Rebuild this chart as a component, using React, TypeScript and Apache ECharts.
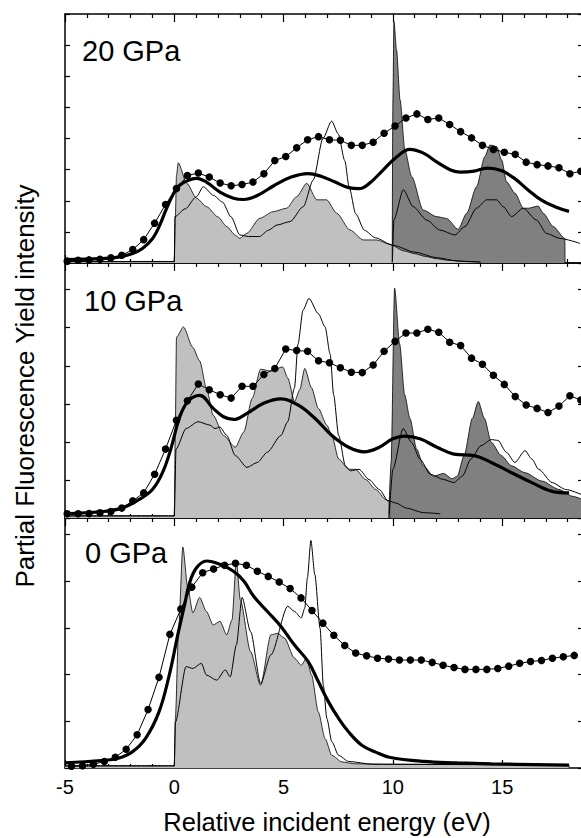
import React, { useEffect, useRef } from "react";
import * as echarts from "echarts";

const FONT = "'Liberation Sans', Arial, Helvetica, sans-serif";

const xTickLabels = ["-5", "0", "5", "10", "15"];
const panelLabels = ["20 GPa", "10 GPa", "0 GPa"];
const xTitle = "Relative incident energy (eV)";
const yTitle = "Partial Fluorescence Yield intensity";

// ---------- Panel 1 : 20 GPa ----------
const p1Dots = [
  [-4.9, 0.06], [-4.4, 0.09], [-3.9, 0.1], [-3.4, 0.12], [-2.9, 0.17], [-2.4, 0.25], [-1.9, 0.43],
  [-1.4, 0.75], [-0.9, 1.28], [-0.4, 1.88], [0.1, 2.39], [0.6, 2.81], [1.1, 2.89], [1.6, 2.76],
  [2.1, 2.57], [2.6, 2.48], [3.1, 2.52], [3.6, 2.6], [4.1, 2.87], [4.6, 3.29], [5.1, 3.42],
  [5.6, 3.7], [6.1, 3.96], [6.6, 4.06], [7.1, 3.96], [7.6, 3.94], [8.1, 3.78], [8.6, 3.78],
  [9.1, 3.88], [9.6, 4.17], [10.1, 4.4], [10.6, 4.66], [11.1, 4.79], [11.6, 4.61], [12.1, 4.66],
  [12.6, 4.45], [13.1, 4.22], [13.6, 4.02], [14.1, 3.78], [14.6, 3.65], [15.1, 3.56], [15.6, 3.49],
  [16.1, 3.24], [16.6, 3.16], [17.1, 3.12], [17.6, 3.06], [18.1, 2.87], [18.6, 2.95],
];
const p1Thick = [
  [-5, 0.11], [-3.33, 0.14], [-2.56, 0.19], [-1.94, 0.3], [-1.47, 0.46], [-1.0, 0.78], [-0.7, 1.16],
  [-0.39, 1.69], [-0.08, 2.17], [0.23, 2.49], [0.62, 2.65], [1.01, 2.72], [1.47, 2.6], [2.09, 2.28],
  [2.71, 2.08], [3.18, 2.04], [3.8, 2.17], [4.57, 2.49], [5.35, 2.76], [6.12, 2.87], [6.74, 2.78],
  [7.36, 2.6], [7.98, 2.42], [8.45, 2.39], [8.91, 2.55], [9.53, 2.97], [10.16, 3.4], [10.78, 3.65],
  [11.4, 3.53], [12.02, 3.24], [12.64, 2.99], [13.1, 2.92], [13.72, 2.95], [14.34, 3.05],
  [14.96, 2.97], [15.58, 2.71], [16.2, 2.34], [16.82, 2.01], [17.44, 1.8], [18.06, 1.66],
];
const p1Light = [
  [-5, 0.04], [0, 0.04], [0.05, 1.5], [0.1, 2.8], [0.18, 3.22], [0.57, 2.56], [1.02, 2.08],
  [1.48, 1.81], [2.0, 1.48], [2.4, 1.17], [2.8, 0.89], [3.0, 0.79], [3.31, 0.95], [3.92, 1.44],
  [4.53, 1.65], [5.14, 1.76], [5.6, 2.13], [6.06, 2.56], [6.52, 2.03], [6.97, 2.03], [7.43, 1.6],
  [8.04, 1.06], [8.65, 0.74], [9.26, 0.74], [9.87, 0.6], [10.5, 0.39], [11.0, 0.3], [11.5, 0.21],
  [12.0, 0.14], [12.5, 0.09], [13.5, 0.04], [14.0, 0.03], [14.01, 0],
];
const p1Dark = [
  [9.97, 0], [10.0, 5.0], [10.05, 7.76], [10.17, 6.85], [10.33, 5.24], [10.55, 3.63], [10.86, 2.78],
  [11.39, 1.7], [12.0, 1.49], [12.46, 1.43], [12.99, 1.08], [13.38, 1.6], [13.83, 2.45], [14.21, 3.42],
  [14.44, 3.79], [14.75, 3.74], [14.98, 3.31], [15.2, 2.61], [15.59, 2.24], [15.97, 1.76], [16.2, 1.76],
  [16.65, 1.83], [16.88, 1.6], [17.34, 1.17], [17.87, 0.79], [17.88, 0],
];
const p1ThinA = [
  [-5, 0.05], [0, 0.05], [0.03, 1.49], [0.5, 1.74], [1.0, 2.12], [1.33, 2.45], [1.8, 2.17],
  [2.2, 1.96], [2.6, 1.48], [3.0, 0.9], [3.4, 0.85], [3.9, 0.85], [4.3, 1.05], [4.7, 1.22],
  [5.3, 1.33], [5.9, 1.81], [6.36, 2.67], [6.8, 4.0], [7.2, 4.56], [7.5, 4.15], [7.8, 3.29],
  [8.0, 2.44], [8.3, 1.58], [8.7, 1.05], [9.2, 0.81], [10, 0.57], [11, 0.35], [12, 0.17],
  [13, 0.06], [14, 0.03],
];
const p1ThinB = [
  [9.98, 0.05], [10.05, 1.4], [10.48, 2.35], [10.93, 1.81], [11.55, 1.38], [12.15, 1.06], [12.84, 0.9],
  [13.3, 1.17], [13.83, 1.76], [14.29, 2.03], [14.75, 2.03], [15.05, 1.81], [15.43, 1.49],
  [15.97, 1.76], [16.57, 1.38], [17.03, 0.95], [17.64, 0.79], [18.56, 0.63],
];

// ---------- Panel 2 : 10 GPa ----------
const p2Dots = [
  [-4.9, 0.11], [-4.4, 0.11], [-3.9, 0.12], [-3.4, 0.14], [-2.9, 0.17], [-2.4, 0.26], [-1.9, 0.45],
  [-1.4, 0.66], [-0.9, 1.15], [-0.4, 1.81], [0.1, 2.57], [0.6, 3.08], [1.1, 3.52], [1.6, 3.37],
  [2.1, 3.24], [2.6, 3.15], [3.1, 3.46], [3.6, 3.46], [4.1, 3.77], [4.6, 3.93], [5.1, 4.44],
  [5.6, 4.4], [6.1, 4.38], [6.6, 4.13], [7.1, 4.08], [7.6, 3.95], [8.1, 3.83], [8.6, 3.82],
  [9.1, 4.02], [9.6, 4.38], [10.1, 4.64], [10.6, 4.86], [11.1, 4.86], [11.6, 4.96], [12.1, 4.88],
  [12.6, 4.62], [13.1, 4.53], [13.6, 4.2], [14.1, 4.04], [14.6, 3.75], [15.1, 3.51], [15.6, 3.19],
  [16.1, 2.97], [16.6, 2.88], [17.1, 2.77], [17.6, 2.94], [18.1, 3.21], [18.6, 3.1],
];
const p2Thick = [
  [-5, 0.11], [-3.33, 0.17], [-2.4, 0.26], [-1.63, 0.48], [-1.0, 0.75], [-0.54, 1.19], [-0.16, 1.81],
  [0.23, 2.62], [0.62, 3.06], [1.16, 3.22], [1.78, 2.88], [2.25, 2.66], [2.71, 2.59], [3.33, 2.75],
  [4.11, 3.02], [4.88, 3.13], [5.66, 2.97], [6.43, 2.62], [7.21, 2.17], [7.98, 1.86], [8.68, 1.74],
  [9.38, 1.86], [10.0, 2.08], [10.54, 2.15], [11.24, 2.08], [12.02, 1.86], [12.79, 1.68],
  [13.72, 1.64], [14.5, 1.46], [15.43, 1.19], [16.36, 0.93], [17.29, 0.7], [18.06, 0.66],
];
const p2Light = [
  [-5, 0.05], [0, 0.05], [0.05, 2.5], [0.1, 4.75], [0.42, 5.02], [0.85, 4.48], [1.16, 4.13],
  [1.47, 3.42], [1.78, 2.7], [2.25, 2.17], [2.79, 1.86], [3.18, 2.26], [3.57, 3.15], [3.95, 3.91],
  [4.42, 3.86], [4.96, 3.97], [5.19, 3.68], [5.5, 3.06], [5.74, 3.37], [5.97, 3.93], [6.28, 3.42],
  [6.59, 2.88], [6.98, 2.44], [7.21, 2.17], [7.52, 1.55], [7.98, 1.28], [8.29, 1.28], [8.76, 1.01],
  [9.22, 0.75], [9.69, 0.48], [9.84, 0.41], [9.86, 0],
];
const p2Dark = [
  [9.81, 0], [9.92, 1.46], [10.08, 6.04], [10.31, 4.57], [10.54, 3.24], [10.78, 2.62], [11.09, 1.81],
  [11.4, 1.37], [11.86, 1.1], [12.33, 1.17], [12.71, 1.03], [12.95, 1.1], [13.26, 1.64], [13.64, 2.62],
  [13.91, 3.06], [14.19, 2.62], [14.5, 1.99], [14.96, 1.64], [15.43, 1.37], [16.05, 1.19],
  [16.82, 0.97], [17.6, 0.75], [18.22, 0.57], [18.7, 0.48],
];
const p2ThinA = [
  [-5, 0.06], [0, 0.06], [0.08, 1.81], [0.54, 2.35], [1.09, 2.53], [1.63, 2.44], [1.86, 2.35],
  [2.09, 2.39], [2.4, 2.17], [2.79, 1.64], [3.33, 1.33], [3.8, 1.46], [4.26, 1.73], [4.88, 2.17],
  [5.19, 2.53], [5.5, 3.42], [5.66, 4.57], [5.89, 5.46], [6.16, 5.77], [6.59, 5.37], [6.9, 5.02],
  [7.13, 4.31], [7.29, 3.24], [7.52, 2.17], [7.83, 1.37], [8.06, 1.24], [8.45, 1.28], [8.91, 1.01],
  [9.38, 0.75], [9.77, 0.46], [10.16, 0.39], [10.62, 0.26], [11.4, 0.14], [12.17, 0.11],
];
const p2ThinB = [
  [9.84, 0.12], [10.0, 1.28], [10.47, 2.35], [10.85, 1.99], [11.24, 1.55], [11.71, 1.15],
  [12.33, 1.01], [12.79, 0.93], [13.18, 1.1], [13.57, 1.55], [14.03, 1.9], [14.5, 2.06],
  [14.81, 2.04], [15.19, 1.73], [15.58, 1.46], [16.05, 1.77], [16.36, 1.55], [16.67, 1.28],
  [17.29, 0.93], [17.91, 0.75], [18.65, 0.61],
];

// ---------- Panel 3 : 0 GPa ----------
const p3Dots = [
  [-4.7, 0.04], [-4.2, 0.05], [-3.7, 0.08], [-3.2, 0.14], [-2.7, 0.23], [-2.2, 0.4], [-1.7, 0.71],
  [-1.2, 1.25], [-0.7, 1.94], [-0.2, 2.86], [0.3, 3.4], [0.8, 3.87], [1.3, 4.18], [1.8, 4.26],
  [2.3, 4.34], [2.8, 4.38], [3.3, 4.34], [3.8, 4.21], [4.3, 4.1], [4.8, 3.98], [5.3, 3.84],
  [5.8, 3.64], [6.3, 3.37], [6.8, 3.1], [7.3, 2.84], [7.8, 2.62], [8.3, 2.46], [8.8, 2.4],
  [9.3, 2.35], [9.8, 2.33], [10.3, 2.31], [10.8, 2.31], [11.3, 2.31], [11.8, 2.26], [12.3, 2.2],
  [12.8, 2.15], [13.3, 2.11], [13.8, 2.11], [14.3, 2.11], [14.8, 2.13], [15.3, 2.18], [15.8, 2.24],
  [16.3, 2.28], [16.8, 2.3], [17.3, 2.35], [17.8, 2.38], [18.3, 2.41],
];
const p3Thick = [
  [-5, 0.11], [-3.33, 0.16], [-2.56, 0.21], [-1.94, 0.34], [-1.32, 0.63], [-0.7, 1.2], [-0.23, 1.99],
  [0.16, 2.85], [0.47, 3.49], [0.7, 3.96], [1.01, 4.28], [1.47, 4.43], [2.09, 4.36], [2.71, 4.21],
  [3.18, 4.0], [3.64, 3.67], [4.26, 3.35], [4.88, 3.03], [5.5, 2.63], [6.12, 2.28], [6.59, 1.85],
  [7.05, 1.42], [7.52, 1.06], [7.98, 0.77], [8.6, 0.48], [9.22, 0.34], [9.84, 0.23], [11.4, 0.14],
  [12.95, 0.11], [14.5, 0.09], [18.06, 0.06],
];
const p3Light = [
  [-5, 0.04], [0, 0.04], [0.05, 1.06], [0.2, 3.0], [0.39, 4.73], [0.62, 3.85], [0.85, 3.32],
  [1.16, 3.65], [1.47, 3.35], [1.78, 3.06], [2.09, 3.14], [2.4, 2.85], [2.64, 3.17], [2.84, 4.43],
  [3.02, 3.6], [3.49, 2.49], [3.95, 1.77], [4.42, 2.85], [4.73, 2.88], [5.04, 2.78], [5.5, 2.35],
  [5.81, 2.2], [6.05, 2.35], [6.28, 1.99], [6.59, 1.2], [6.9, 0.63], [7.21, 0.27], [7.67, 0.13],
  [8.29, 0.09], [9.84, 0.08], [18.06, 0.07], [18.07, 0],
];
const p3ThinA = [
  [-5, 0.05], [0, 0.05], [0.05, 0.98], [0.54, 2.17], [0.85, 2.13], [1.24, 2.24], [1.47, 1.99],
  [1.94, 1.88], [2.33, 2.1], [2.56, 1.95], [2.84, 2.63], [3.1, 3.65], [3.49, 2.92], [3.95, 1.81],
  [4.42, 2.42], [5.19, 3.46], [5.5, 3.35], [5.81, 3.21], [5.97, 3.42], [6.09, 4.07], [6.25, 4.87],
  [6.43, 4.14], [6.67, 2.99], [6.82, 1.77], [6.98, 1.06], [7.21, 0.56], [7.52, 0.27], [7.98, 0.14],
  [9.07, 0.08], [18.06, 0.06],
];

const panels = [
  { dots: p1Dots, thick: p1Thick, light: p1Light, dark: p1Dark, thins: [p1ThinA, p1ThinB] },
  { dots: p2Dots, thick: p2Thick, light: p2Light, dark: p2Dark, thins: [p2ThinA, p2ThinB] },
  { dots: p3Dots, thick: p3Thick, light: p3Light, dark: null, thins: [p3ThinA] },
];

const yMaxes = [8, 6.7, 5.35];
const gridBoxes = [
  { top: 14, height: 249 },
  { top: 263, height: 255 },
  { top: 518, height: 250 },
];
const labelCenters = [
  [82, 51],
  [84, 301],
  [85, 553],
];

function buildOption() {
  const grid: any[] = [];
  const xAxis: any[] = [];
  const yAxis: any[] = [];
  const series: any[] = [];
  const axisColor = "#000";

  gridBoxes.forEach((g, i) => {
    grid.push({ left: 65, top: g.top, width: 518, height: g.height, containLabel: false });
    ["bottom", "top"].forEach((pos) => {
      const showLabel = i === 2 && pos === "bottom";
      xAxis.push({
        type: "value",
        gridIndex: i,
        position: pos,
        min: -5,
        max: 18.7,
        interval: 5,
        axisLine: { show: true, onZero: false, lineStyle: { color: axisColor, width: 1.5 } },
        axisTick: { show: true, inside: true, length: 8, lineStyle: { color: axisColor, width: 1.2 } },
        minorTick: { show: true, splitNumber: 5, length: 4, lineStyle: { color: axisColor, width: 1.2 } },
        splitLine: { show: false },
        minorSplitLine: { show: false },
        axisLabel: {
          show: showLabel,
          margin: 9,
          color: "#000",
          fontSize: 20,
          fontFamily: FONT,
          showMaxLabel: false,
          formatter: (v: number) => (xTickLabels.indexOf(String(v)) >= 0 ? String(v) : ""),
        },
      });
    });
    ["left", "right"].forEach((pos) => {
      yAxis.push({
        type: "value",
        gridIndex: i,
        position: pos,
        min: 0,
        max: yMaxes[i],
        interval: 1,
        axisLine: { show: true, onZero: false, lineStyle: { color: axisColor, width: 1.5 } },
        axisTick: { show: true, inside: true, length: 5, lineStyle: { color: axisColor, width: 1.2 } },
        axisLabel: { show: false },
        splitLine: { show: false },
      });
    });

    const p = panels[i];
    const xi = 2 * i;
    const yi = 2 * i;
    const base = { type: "line", xAxisIndex: xi, yAxisIndex: yi, showSymbol: false, symbol: "none", silent: true };
    const soft = { smooth: 0.25, smoothMonotone: "x" };
    if (p.dark) {
      series.push({
        ...base,
        ...soft,
        data: p.dark,
        lineStyle: { color: "#000", width: 0.8 },
        areaStyle: { color: "#808080", opacity: 1, origin: "start" },
      });
    }
    series.push({
      ...base,
      ...soft,
      data: p.light,
      lineStyle: { color: "#000", width: 0.8 },
      areaStyle: { color: "#c0c0c0", opacity: 1, origin: "start" },
    });
    p.thins.forEach((t) => {
      series.push({ ...base, ...soft, data: t, lineStyle: { color: "#000", width: 1 } });
    });
    series.push({ ...base, data: p.thick, smooth: 0.4, lineStyle: { color: "#000", width: 3.2 } });
    series.push({
      type: "line",
      xAxisIndex: xi,
      yAxisIndex: yi,
      data: p.dots,
      symbol: "circle",
      symbolSize: 7.5,
      showSymbol: true,
      silent: true,
      itemStyle: { color: "#000" },
      lineStyle: { color: "#000", width: 1 },
    });
  });

  const graphic: any[] = [];
  panelLabels.forEach((t, i) => {
    graphic.push({
      type: "text",
      x: labelCenters[i][0],
      y: labelCenters[i][1],
      style: { text: t, font: `29px ${FONT}`, fill: "#000", align: "left", verticalAlign: "middle" },
    });
  });
  graphic.push({
    type: "text",
    x: 327,
    y: 822,
    style: { text: xTitle, font: `25.5px ${FONT}`, fill: "#000", align: "center", verticalAlign: "middle" },
  });
  graphic.push({
    type: "text",
    x: 25,
    y: 386,
    rotation: Math.PI / 2,
    style: { text: yTitle, font: `26px ${FONT}`, fill: "#000", align: "center", verticalAlign: "middle" },
  });

  return { animation: false, backgroundColor: "#fff", grid, xAxis, yAxis, series, graphic };
}

export default function App() {
  const ref = useRef<HTMLDivElement>(null);
  useEffect(() => {
    if (!ref.current) return;
    const chart = echarts.init(ref.current, undefined, { renderer: "svg" });
    chart.setOption(buildOption() as any);
    return () => chart.dispose();
  }, []);
  return (
    <div style={{ position: "fixed", left: 0, top: 0, width: 581, height: 838, overflow: "hidden", background: "#fff" }}>
      <div ref={ref} style={{ width: 590, height: 838 }} />
    </div>
  );
}
